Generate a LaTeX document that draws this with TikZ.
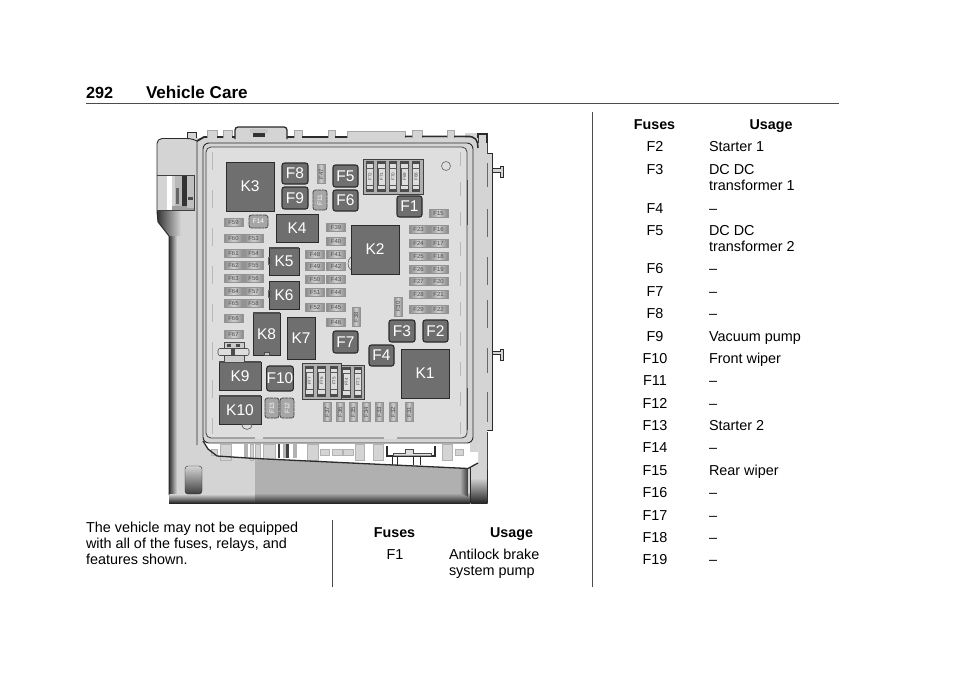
\documentclass[tikz,border=0pt]{standalone}
\usepackage{fontspec}
\setmainfont{Liberation Sans}
\definecolor{relayc}{HTML}{6F6F6F}
\definecolor{panelc}{HTML}{DEDEDE}
\definecolor{bodyc}{HTML}{D4D4D4}
\definecolor{edgec}{HTML}{2B2B2B}
\definecolor{fusec}{HTML}{8A8A8A}
\tikzset{
 relay/.style={rectangle,fill=relayc,draw=edgec,line width=.5pt,inner sep=0,outer sep=0,text=white,font=\fontsize{15.5}{15}\selectfont},
 bigfuse/.style={rectangle,rounded corners=2.5pt,fill=relayc,draw=edgec,line width=1.1pt,inner sep=0,outer sep=0,text=white,font=\fontsize{15.5}{15}\selectfont},
 fuselet/.style={rectangle,left color=fusec,right color=fusec,middle color=panelc!85!gray,draw=gray!85,line width=.6pt,inner sep=0,outer sep=0,minimum width=19pt,minimum height=8pt,text=black!70,font=\fontsize{6}{6}\selectfont},
 vfuselet/.style={fuselet,rotate=90},
 block/.style={rectangle,fill=gray!62,draw=black!75,line width=.7pt,inner sep=0,outer sep=0},
 blade/.style={rectangle,fill=panelc,draw=gray!70!black,line width=.6pt,inner sep=0,outer sep=0,minimum height=7pt,text=black!70,font=\fontsize{4.6}{5}\selectfont},
 rulec/.style={draw=black!70,line width=1pt},
 outline/.style={draw=edgec,line width=.9pt},
 body/.style={font=\fontsize{14.4}{16}\selectfont,inner sep=0,outer sep=0,anchor=base west},
 headc/.style={font=\fontsize{14.3}{16}\selectfont\bfseries,inner sep=0,outer sep=0,anchor=base},
 tabnum/.style={font=\fontsize{14.4}{16}\selectfont,inner sep=0,outer sep=0,anchor=base},
 midf/.style={rectangle,rounded corners=2.5pt,fill=gray!70,draw=black!75,dash pattern=on 3pt off .6pt,line width=.8pt,inner sep=0,outer sep=0,text=white,font=\fontsize{6.5}{7}\selectfont},
 lug/.style={fill=bodyc,draw=gray!70,line width=.5pt},
 tooth/.style={fill=bodyc,draw=gray!60,line width=.5pt},
}
\newcommand{\Rly}[6]{\node[#1,minimum width={(#5-#3)*1pt},minimum height={(#6-#4)*1pt}] (#2) at ({(#3+#5)/2},{(#4+#6)/2}) {#2};}
\newcommand{\Hf}[3]{\node[fuselet] (#1) at (#2,#3) {#1};}
\newcommand{\Vf}[3]{\node[vfuselet] (#1) at (#2,#3) {#1};}
\newcommand{\Row}[4]{\node[tabnum] (n#1) at (#2,#3) {#1};\node[body] (t#1) at (#2+54,#3) {#4};}
\newcommand{\Bld}[3]{\fill[black!70] (#2-4.2,#3-15.5) rectangle (#2+4.2,#3+15.5);
 \fill[panelc] (#2-3.2,#3-12.5) rectangle (#2+3.2,#3+12.5);
 \node[blade,minimum width=17pt,rotate=90] (#1) at (#2,#3) {#1};}
\begin{document}
\begin{tikzpicture}[x=1pt,y=-1pt]
\useasboundingbox (0,0) rectangle (960,678);
\fill[white] (0,0) rectangle (960,678);
% header
\node[headc,font=\fontsize{16.2}{18}\selectfont\bfseries,anchor=base west] (page) at (86,98.5) {292};
\node[headc,font=\fontsize{17.1}{18}\selectfont\bfseries,anchor=base west] (title) at (146,98.5) {Vehicle Care};
\coordinate (ra) at (86,103.3); \coordinate (rb) at (839,103.3);
\draw[rulec,line width=1.3pt] (ra) -- (rb);
\coordinate (v1a) at (332,520); \coordinate (v1b) at (332,587);
\coordinate (v2a) at (592,112); \coordinate (v2b) at (592,587);
\draw[rulec] (v1a) -- (v1b); \draw[rulec] (v2a) -- (v2b);
% ---------- housing ----------
% right panel with pins
\fill[bodyc] (465,133) rectangle (487,465);
\fill[bodyc] (487,153) rectangle (492.5,430);
\draw[outline] (487,153) -- (492.5,153) -- (492.5,430) -- (487,430);
\draw[outline,line width=1.2pt] (478,145) -- (478,134) -- (487,134) -- (487,153);
\foreach \ya/\yb in {163/187,209/237,257/285,300/328,348/373,392/422}{
 \draw[black!75,line width=1pt] (478,\ya) -- (478,\yb);
 \draw[black!65,line width=1pt] (487,\ya) -- (487,\yb);}
\draw[edgec,line width=1pt] (478,432) -- (478,462) (487,432) -- (487,470);
\draw[outline,fill=bodyc,line width=.6pt] (493,168.5) -- (500,168.5) -- (500,166) -- (503,166) -- (503,177) -- (500,177) -- (500,172) -- (493,172);
\draw[outline,fill=bodyc,line width=.6pt] (493,351) -- (500,351) -- (500,349) -- (503,349) -- (503,360) -- (500,360) -- (500,354) -- (493,354);
% top lugs
\draw[outline,fill=bodyc] (187,139) -- (187,132.5) -- (196,132.5) -- (196,139);
\foreach \a/\b in {207/217,223/232,294/302,328/335,412/422,447/454}{
 \draw[lug] (\a,139) -- (\a,130.5) -- (\b,130.5) -- (\b,139);}
\draw[lug] (347,139) -- (347,131) -- (405,131) -- (405,139);
% main body
\fill[bodyc] (157,145) [rounded corners=5pt] -- (157,138.5) -- (192,138.5) [sharp corners] -- (197,138) -- (478,138) -- (478,143) -- (487,143) -- (487,502) -- (169,502) -- (169,236) -- (158,222) -- (157,213) -- cycle;
% left shadow
\shade[left color=black!80,right color=bodyc] (169,234) rectangle (177,494);
\shade[left color=black!80,right color=bodyc] (157,211) -- (181,211) -- (181,236) -- (169,236) -- (158,222) -- cycle;
\shade[top color=bodyc,bottom color=black!85] (169,494) rectangle (255,503);
\draw[outline] (157,212) -- (157,145) [rounded corners=5pt] -- (157,138.5) -- (192,138.5) [sharp corners] -- (197,141) -- (197,445);
\draw[outline] (157,212) -- (158,222) -- (169,236) -- (169,495);
% latch
\fill[gray!75] (158,176) rectangle (194,210);
\fill[bodyc] (158,176) rectangle (167,210);
\fill[white] (167,176) rectangle (172,210);
\fill[gray!35] (172,176) rectangle (175,206);
\fill[gray!55] (175,176) rectangle (182,206);
\fill[gray!80!black] (176,188) rectangle (179,204);
\fill[black!80] (182,176) rectangle (187,206);
\fill[gray!50] (187,176) rectangle (194,208);
\fill[black!70] (188,197) rectangle (193,200);
\draw[black!75,line width=.7pt] (157,175) -- (194,175) -- (194,210) -- (157,210);
% top dark rim segments
\draw[edgec,line width=1.8pt] (197,141) -- (204,137) -- (207,137) (217,137) -- (223,137) (232,137) -- (235,137) (287,137) -- (294,137) (302,137) -- (328,137) (335,137) -- (347,137) (405,136.5) -- (412,136.5) (422,136.5) -- (447,136.5) (454,136.5) -- (470,136.5);
\draw[edgec,line width=1.5pt,rounded corners=5pt] (470,136.5) -- (477,138) -- (478,148);
\draw[edgec,fill=bodyc,line width=1.3pt,rounded corners=3pt] (235,139) -- (235,127) -- (287,127) -- (287,139);
\fill[gray!45] (250,129) rectangle (268,133);
\fill[black!80] (253,133) rectangle (265,136.5);
% dark lower plate
\fill[gray!62] (255,459) -- (468,469) -- (468,495) -- (255,495) -- cycle;
\shade[top color=gray!62,bottom color=black!85] (255,493) rectangle (470,503);
\shade[left color=gray!62,right color=black!80] (460,468) -- (468.5,469) -- (468.5,497) -- (460,493) -- cycle;
\shade[top color=bodyc,bottom color=black!85] (470.5,478) rectangle (487.5,503);
\draw[edgec,line width=1pt] (470.5,463) -- (470.5,502) (487,470) -- (487,502);
% bottom teeth strip
\fill[white] (203,443) -- (478,443) -- (478,463) -- (470,468) -- (255,458) -- (217,456) -- cycle;
\foreach \a/\b in {220/231,250/253,255/260,263/275,307/318,355/364,373/383,442/452}{
 \draw[tooth] (\a,444) rectangle (\b,460);}
\foreach \a/\b in {211/217,320/329,332/342,343/353,455/463}{
 \draw[tooth] (\a,449) rectangle (\b,455);}
\foreach \a/\b in {244/248,283/288,293/297}{
 \fill[gray!60] (\a,444) rectangle (\b,458);}
\fill[bodyc] (470,443) rectangle (478,452);
\fill[black!75] (278,444) rectangle (280,458);\fill[black!75] (286,444) rectangle (289,458);
\draw[edgec,line width=1.3pt] (203,441) -- (208,449) -- (217,456) -- (255,458.5) -- (468,468.5) -- (478,463);
\draw[edgec,line width=1.2pt] (387,446) -- (387,456) -- (435,456) -- (435,446);
\draw[edgec,line width=1pt] (392,456) -- (392,465) (397,456) -- (397,465) (413,456) -- (413,465) (420,456) -- (420,465);
\draw[black!70,fill=panelc,line width=.7pt] (393,455.5) -- (393,453) -- (405,453) -- (405,449) -- (413,449) -- (413,453) -- (431,453) -- (431,455.5);
% finger slot
\shade[top color=bodyc,bottom color=black!75,rounded corners=3pt,draw=edgec] (185,466) rectangle (202,494);
% cover
\draw[outline,fill=bodyc,rounded corners=6pt] (203,143) rectangle (473,443);
\draw[draw=black!75,line width=.8pt,fill=panelc,rounded corners=5pt] (206,147) rectangle (467,438);
\draw[gray!55,line width=.5pt,dash pattern=on 14pt off 16pt] (460,152) -- (460,434);
\draw[gray!55,line width=.5pt,dash pattern=on 18pt off 20pt] (212,152) -- (212,434);
\draw[black!70,line width=1pt] (467,180) -- (467,225) (467,388) -- (467,430);
\fill[panelc] (384,436.5) rectangle (397,439);
\fill[panelc] (255,436.5) rectangle (263,439);
% ---------- relays ----------
\Rly{relay}{K3}{226}{162}{274}{211}
\Rly{relay}{K4}{276}{214}{318}{242}
\Rly{relay}{K5}{269}{248}{299}{275}
\Rly{relay}{K6}{269}{281}{299}{309}
\Rly{relay}{K2}{351}{225}{399}{274}
\Rly{relay}{K1}{401}{349}{449}{398}
\Rly{relay}{K8}{253}{313}{280}{355}
\Rly{relay}{K7}{287}{317}{315}{359}
\Rly{relay}{K9}{219}{362}{261}{390}
\Rly{relay}{K10}{219}{396}{261}{424}
\draw[black!70,line width=1.2pt] (219,362) -- (261,362) (219,396) -- (261,396) (269,248) -- (299,248) (253,313) -- (280,313);
\draw[black!70,fill=panelc,line width=.6pt] (242,424.5) .. controls (242,431) and (252,431) .. (252,424.5) -- cycle;
\draw[black!70,fill=gray!45,line width=.5pt] (264,352) rectangle (269,355);
\draw[black!60,line width=.5pt] (268,257) rectangle (271,264);
\draw[black!60,line width=.5pt] (268,290) rectangle (271,297);
\draw[black!70,line width=.5pt] (351,257) .. controls (347,260) and (347,267) .. (351,270);
% ---------- square fuses ----------
\Rly{bigfuse}{F8}{282}{163}{308}{184}
\Rly{bigfuse}{F9}{282}{187}{308}{209}
\Rly{bigfuse}{F5}{333}{165}{358}{187}
\Rly{bigfuse}{F6}{333}{190}{358}{211}
\Rly{bigfuse}{F1}{397}{196}{422}{217}
\Rly{bigfuse}{F3}{389}{320}{415}{342}
\Rly{bigfuse}{F2}{423}{320}{448}{342}
\Rly{bigfuse}{F7}{333}{331}{358}{353}
\Rly{bigfuse}{F4}{369}{345}{394}{366}
\Rly{bigfuse}{F10}{269}{366}{291}{391}
% medium fuses
\node[midf,minimum width=19pt,minimum height=13pt] (F14) at (258.5,221.5) {F14};
\node[midf,minimum width=20pt,minimum height=14pt,rotate=90] (F11) at (320,200) {F11};
\node[midf,minimum width=20pt,minimum height=14pt,rotate=90] (F13) at (272,408) {F13};
\node[midf,minimum width=20pt,minimum height=14pt,rotate=90] (F12) at (287,408) {F12};
% ---------- small fuses ----------
\Vf{F47}{321}{174}
\Hf{F59}{233.5}{222}
\Hf{F60}{233.5}{238}\Hf{F53}{253.5}{238}
\Hf{F61}{233.5}{253}\Hf{F54}{253.5}{253}
\Hf{F62}{233.5}{265.5}\Hf{F55}{253.5}{265.5}
\Hf{F63}{233.5}{278}\Hf{F56}{253.5}{278}
\Hf{F64}{233.5}{291.5}\Hf{F57}{253.5}{291.5}
\Hf{F65}{233.5}{303.5}\Hf{F58}{253.5}{303.5}
\Hf{F66}{233.5}{318}\Hf{F67}{233.5}{334}
\Hf{F39}{336}{227}\Hf{F40}{336}{241}
\Hf{F48}{315}{254.5}\Hf{F41}{336}{254.5}
\Hf{F49}{315}{266.5}\Hf{F42}{336}{266.5}
\Hf{F50}{315}{279.5}\Hf{F43}{336}{279.5}
\Hf{F51}{315}{292.5}\Hf{F44}{336}{292.5}
\Hf{F52}{315}{307}\Hf{F45}{336}{307}
\Hf{F46}{336}{322.5}
\Vf{F38}{356}{317}\Vf{F30}{398}{306.5}
\Hf{F15}{438.5}{213}
\Hf{F23}{418.5}{229}\Hf{F16}{438.5}{229}
\Hf{F24}{418.5}{243}\Hf{F17}{438.5}{243}
\Hf{F25}{418.5}{256}\Hf{F18}{438.5}{256}
\Hf{F26}{418.5}{269}\Hf{F19}{438.5}{269}
\Hf{F27}{418.5}{281.5}\Hf{F20}{438.5}{281.5}
\Hf{F28}{418.5}{294.5}\Hf{F21}{438.5}{294.5}
\Hf{F29}{418.5}{309}\Hf{F22}{438.5}{309}
\Vf{F37}{327}{412}\Vf{F36}{340}{412}\Vf{F35}{353}{412}\Vf{F34}{366}{412}\Vf{F33}{379}{412}\Vf{F32}{393}{412}\Vf{F31}{409}{412}
% ---------- fuse blocks ----------
\node[block,minimum width=60pt,minimum height=35pt] (blockA) at (393,176.5) {};
\Bld{F72}{370}{176.5}\Bld{F71}{381.5}{176.5}\Bld{F70}{393}{176.5}\Bld{F69}{404.5}{176.5}\Bld{F68}{416}{176.5}
\node[block,minimum width=39pt,minimum height=36pt] (blockB) at (321.5,381) {};
\node[block,minimum width=23pt,minimum height=34pt] (blockC) at (352.5,382) {};
\Bld{F77}{309.5}{381}\Bld{F76}{321.5}{381}\Bld{F75}{334}{381}\Bld{F74}{346.5}{382}\Bld{F73}{358}{382}
% clip fuse and circle
\node[draw=black!60,line width=.6pt,circle,minimum size=9pt,inner sep=0] (hole) at (446,166) {};
\draw[black!70,fill=gray!40,line width=.6pt] (224,342) rectangle (244,362);
\node[draw=black!70,fill=panelc,line width=.6pt,rounded corners=2pt,minimum width=31pt,minimum height=7pt,inner sep=0] (clipfuse) at (233.5,352) {};
\fill[black!70] (227,344) rectangle (231,347);\fill[black!70] (236,344) rectangle (240,347);
\fill[black!70] (231,349) rectangle (235,356);
% ---------- texts ----------
\node[body] (intro1) at (86,532) {The vehicle may not be equipped};
\node[body] (intro2) at (86,548) {with all of the fuses, relays, and};
\node[body] (intro3) at (86,564) {features shown.};
\node[headc] (hfuse1) at (394.5,537) {Fuses};
\node[headc] (huse1) at (511.5,537) {Usage};
\node[tabnum] (r1) at (395,559) {F1};
\node[body] (t1a) at (449,559) {Antilock brake};
\node[body] (t1b) at (449,575) {system pump};
\node[headc] (hfuse2) at (654.5,129) {Fuses};
\node[headc] (huse2) at (771,129) {Usage};
\Row{F2}{655}{151}{Starter 1}
\Row{F3}{655}{174}{DC DC}
\node[body] (t3b) at (709,190) {transformer 1};
\Row{F4}{655}{213}{–}
\Row{F5}{655}{235}{DC DC}
\node[body] (t5b) at (709,251) {transformer 2};
\Row{F6}{655}{273}{–}
\Row{F7}{655}{296}{–}
\Row{F8}{655}{318}{–}
\Row{F9}{655}{341}{Vacuum pump}
\Row{F10}{655}{363}{Front wiper}
\Row{F11}{655}{385}{–}
\Row{F12}{655}{408}{–}
\Row{F13}{655}{430}{Starter 2}
\Row{F14}{655}{452}{–}
\Row{F15}{655}{475}{Rear wiper}
\Row{F16}{655}{497}{–}
\Row{F17}{655}{520}{–}
\Row{F18}{655}{542}{–}
\Row{F19}{655}{564}{–}
\end{tikzpicture}
\end{document}
